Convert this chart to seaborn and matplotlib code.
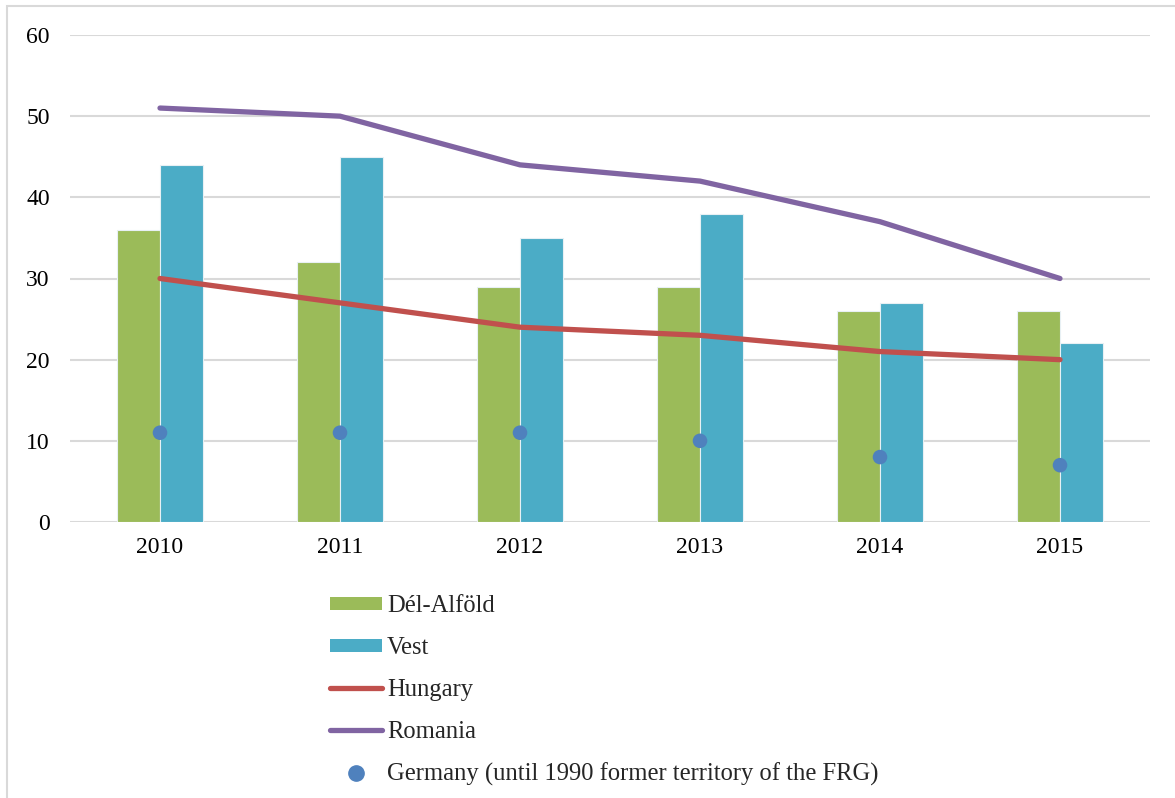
import numpy as np
import pandas as pd
import matplotlib
matplotlib.use("Agg")
import matplotlib.pyplot as plt
from matplotlib.patches import Patch, Rectangle
from matplotlib.lines import Line2D
import seaborn as sns

years = ["2010", "2011", "2012", "2013", "2014", "2015"]
del_alfold = [36, 32, 29, 29, 26, 26]
vest = [44, 45, 35, 38, 27, 22]
hungary = [30, 27, 24, 23, 21, 20]
romania = [51, 50, 44, 42, 37, 30]
germany = [11, 11, 11, 10, 8, 7]

bar_names = ["Dél-Alföld", "Vest"]
line_names = ["Hungary", "Romania"]
dot_name = "Germany (until 1990 former territory of the FRG)"

c_green = "#9BBB59"
c_blue = "#4BACC6"
c_red = "#C0504D"
c_purple = "#8064A2"
c_dot = "#4F81BD"

sns.set_theme(style="white")
plt.rcParams["font.family"] = ["Liberation Serif", "DejaVu Serif"]
plt.rcParams["font.size"] = 17

bars = pd.DataFrame({
    "year": years * 2,
    "value": del_alfold + vest,
    "region": [bar_names[0]] * len(years) + [bar_names[1]] * len(years),
})
pos = np.arange(len(years))
lines = pd.DataFrame({
    "x": np.concatenate([pos, pos]),
    "value": hungary + romania,
    "country": [line_names[0]] * len(years) + [line_names[1]] * len(years),
})
dots = pd.DataFrame({"x": pos, "value": germany})

fig = plt.figure(figsize=(11.75, 7.98), dpi=100)
ax = fig.add_axes([70 / 1175, 1 - 522 / 798, 1080 / 1175, 487 / 798])

sns.barplot(data=bars, x="year", y="value", hue="region", order=years,
            hue_order=bar_names, palette=[c_green, c_blue], width=0.478,
            gap=0, saturation=1, edgecolor="#e8f0f4", linewidth=0.8,
            legend=False, ax=ax, zorder=2)
sns.lineplot(data=lines, x="x", y="value", hue="country", hue_order=line_names,
             palette=[c_red, c_purple], linewidth=3.8, legend=False, ax=ax,
             zorder=3, solid_capstyle="round")
sns.scatterplot(data=dots, x="x", y="value", color=c_dot, s=110,
                edgecolor="none", legend=False, ax=ax, zorder=4)

ax.set_xlim(-0.5, len(years) - 0.5)
ax.set_ylim(0, 60)
ax.set_yticks(range(0, 61, 10))
ax.set_xticks(pos)
ax.set_xticklabels(years)
ax.set_xlabel("")
ax.set_ylabel("")
ax.yaxis.grid(True, color="#d9d9d9", linewidth=1.5, zorder=0)
ax.set_axisbelow(True)
for s in ax.spines.values():
    s.set_visible(False)
ax.tick_params(axis="both", length=0, labelsize=17, colors="black")
ax.tick_params(axis="y", pad=14.5)
ax.tick_params(axis="x", pad=11)

handles = [
    Patch(facecolor=c_green, edgecolor="none", label=bar_names[0]),
    Patch(facecolor=c_blue, edgecolor="none", label=bar_names[1]),
    Line2D([], [], color=c_red, linewidth=3.8, solid_capstyle="round", label=line_names[0]),
    Line2D([], [], color=c_purple, linewidth=3.8, solid_capstyle="round", label=line_names[1]),
    Line2D([], [], marker="o", color=c_dot, linestyle="none", markersize=11, label=dot_name),
]
leg = fig.legend(handles=handles, loc="upper left",
                 bbox_to_anchor=(318 / 1175, 1 - 583 / 798),
                 frameon=False, fontsize=17.7, handlelength=2.11, handleheight=0.49,
                 handletextpad=0.2, labelspacing=0.81, borderpad=0)

fig.patches.append(Rectangle((7 / 1175, -0.1), 1.2, 1 - 6 / 798 + 0.1,
                             transform=fig.transFigure, fill=False,
                             edgecolor="#d9d9d9", linewidth=1.5))

fig.savefig("out.png", dpi=100)
